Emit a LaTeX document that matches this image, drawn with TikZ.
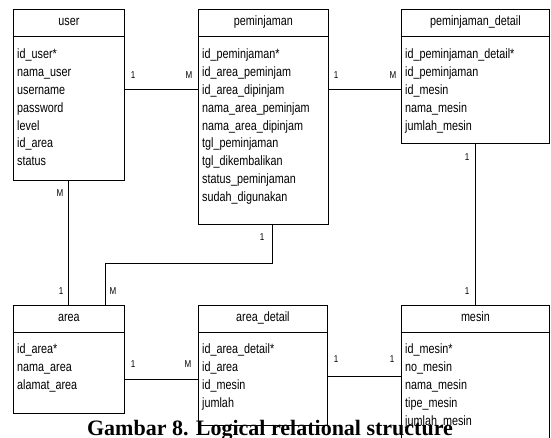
\documentclass[tikz,border=0pt]{standalone}
\usepackage{fontspec}
\setmainfont{Liberation Sans}[FakeStretch=0.8]
\newfontfamily\capfont{Liberation Serif}
\usetikzlibrary{positioning}
\usetikzlibrary{calc}

\begin{document}
\begin{tikzpicture}[x=1pt, y=-1pt,
  entity/.style={draw, line width=0.8pt, anchor=north west, inner sep=0pt},
  head/.style={draw, line width=0.8pt, anchor=north, minimum height=27pt,
    text height=9pt, text depth=3pt, font=\fontsize{13.5}{16}\selectfont},
  attr/.style={anchor=north west, align=left, inner sep=0pt,
    font=\fontsize{13.5}{17.9}\selectfont},
  card/.style={inner sep=0pt, font=\fontsize{10}{12}\selectfont},
  link/.style={line width=0.8pt}]
\clip (0,0) rectangle (551,437);

% tables
\node[entity, minimum width=111pt, minimum height=171pt] (user) at (13,9) {};
\node[head, minimum width=111pt] (user-h) at (user.north) {user};
\node[attr] (user-a) at (17,48.5) {id\_user*\\nama\_user\\username\\password\\level\\id\_area\\status};

\node[entity, minimum width=130pt, minimum height=215pt] (pem) at (198,9) {};
\node[head, minimum width=130pt] (pem-h) at (pem.north) {peminjaman};
\node[attr] (pem-a) at (202,48.5) {id\_peminjaman*\\id\_area\_peminjam\\id\_area\_dipinjam\\nama\_area\_peminjam\\nama\_area\_dipinjam\\tgl\_peminjaman\\tgl\_dikembalikan\\status\_peminjaman\\sudah\_digunakan};

\node[entity, minimum width=148pt, minimum height=134pt] (pd) at (401,9) {};
\node[head, minimum width=148pt] (pd-h) at (pd.north) {peminjaman\_detail};
\node[attr] (pd-a) at (405,48.5) {id\_peminjaman\_detail*\\id\_peminjaman\\id\_mesin\\nama\_mesin\\jumlah\_mesin};

\node[entity, minimum width=111pt, minimum height=108pt] (area) at (13,305) {};
\node[head, minimum width=111pt] (area-h) at (area.north) {area};
\node[attr] (area-a) at (17,343.5) {id\_area*\\nama\_area\\alamat\_area};

\node[entity, minimum width=129pt, minimum height=120pt] (ad) at (198,305) {};
\node[head, minimum width=129pt] (ad-h) at (ad.north) {area\_detail};
\node[attr] (ad-a) at (202,343.5) {id\_area\_detail*\\id\_area\\id\_mesin\\jumlah};

\node[entity, minimum width=148pt, minimum height=150pt] (mesin) at (401,305) {};
\node[head, minimum width=148pt] (mesin-h) at (mesin.north) {mesin};
\node[attr] (mesin-a) at (405,343.5) {id\_mesin*\\no\_mesin\\nama\_mesin\\tipe\_mesin\\jumlah\_mesin};

% relations
\coordinate (bend) at (105,263);
\draw[link] (user.east |- 0,89) -- (pem.west |- 0,89);
\draw[link] (pem.east |- 0,89) -- (pd.west |- 0,89);
\draw[link] (pd.south -| 475,0) -- (mesin.north -| 475,0);
\draw[link] (user.south -| 68,0) -- (area.north -| 68,0);
\draw[link] (pem.south -| 272,0) |- (bend) -- (bend |- area.north);
\draw[link] (area.east |- 0,379) -- (ad.west |- 0,379);
\draw[link] (ad.east |- 0,376) -- (mesin.west |- 0,376);

\node[card] (c1) at (133,75) {1};
\node[card] (c2) at (189,75) {M};
\node[card] (c3) at (336,75) {1};
\node[card] (c4) at (393,75) {M};
\node[card] (c5) at (467,157) {1};
\node[card] (c6) at (467,291) {1};
\node[card] (c7) at (60,193) {M};
\node[card] (c8) at (61,291) {1};
\node[card] (c9) at (262,237) {1};
\node[card] (c10) at (113,291) {M};
\node[card] (c11) at (133,364) {1};
\node[card] (c12) at (188,364) {M};
\node[card] (c13) at (336,359) {1};
\node[card] (c14) at (392,359) {1};

\node[anchor=base, inner sep=0pt, font=\capfont\bfseries\fontsize{22}{24}\selectfont] (caption) at (270,435) {Gambar 8. Logical relational structure};
\end{tikzpicture}
\end{document}
